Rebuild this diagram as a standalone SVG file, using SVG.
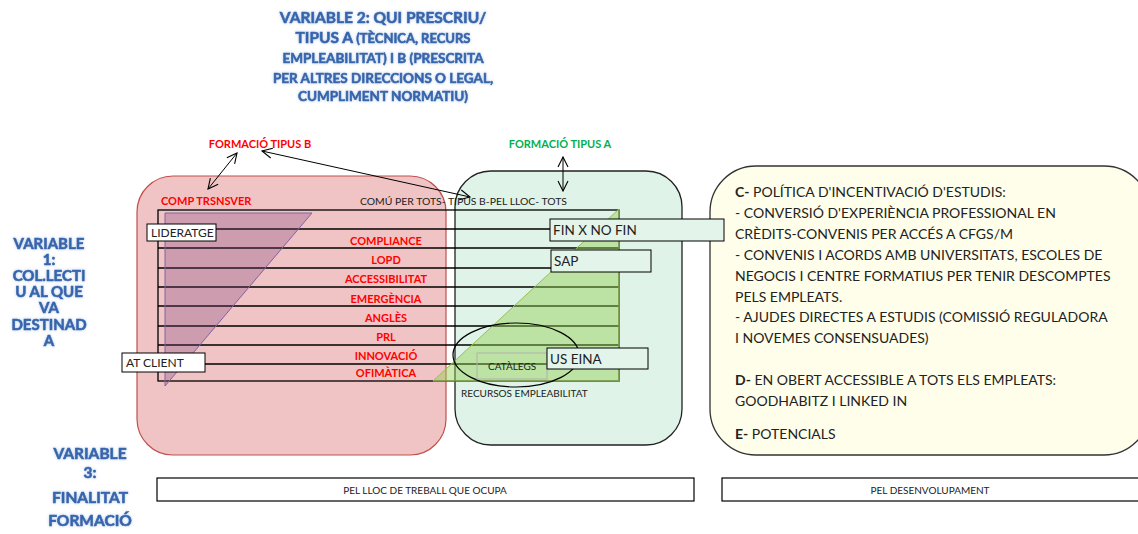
<svg xmlns="http://www.w3.org/2000/svg" width="1138" height="534" viewBox="0 0 1138 534">
<style>
.ttl{font-family:Lato,"Liberation Sans",sans-serif;font-weight:bold;fill:#3465ad;stroke:#3465ad;stroke-width:0.6;text-anchor:middle;filter:url(#glow)}
.row{font-family:Lato,"Liberation Sans",sans-serif;font-weight:bold;font-size:11px;fill:#ff0000;text-anchor:middle}
.lbl{font-family:Lato,"Liberation Sans",sans-serif;fill:#222}
.box{fill:#fff;stroke:#000;stroke-width:1}
.gbox{fill:#e3f4ea;stroke:#000;stroke-width:1}
.rt{font-family:Lato,"Liberation Sans",sans-serif;font-size:14px;fill:#222}
.tl{stroke:#000;stroke-width:1.3}
.arr{stroke:#000;stroke-width:1;fill:none;marker-start:url(#ah);marker-end:url(#ah)}
</style>
<defs>
<filter id="glow" x="-10%" y="-30%" width="120%" height="160%">
<feGaussianBlur in="SourceAlpha" stdDeviation="1.6" result="b"/>
<feFlood flood-color="#a9c3e6" flood-opacity="0.9"/>
<feComposite in2="b" operator="in" result="g"/>
<feMerge><feMergeNode in="g"/><feMergeNode in="SourceGraphic"/></feMerge>
</filter>
<marker id="ah" viewBox="0 0 12 12" refX="11" refY="6" markerWidth="12" markerHeight="12" markerUnits="userSpaceOnUse" orient="auto-start-reverse">
<path d="M1,1 L11,6 L1,11" fill="none" stroke="#000" stroke-width="1.1"/>
</marker>
</defs>
<rect width="1138" height="534" fill="#fff"/>

<g id="title">
<text class="ttl" x="383" y="23" font-size="15.5px">VARIABLE 2: QUI PRESCRIU/</text>
<text class="ttl" x="383" y="43" font-size="13px"><tspan font-size="15.5px">TIPUS A</tspan> (TÈCNICA, RECURS</text>
<text class="ttl" x="383" y="63" font-size="13.5px">EMPLEABILITAT) I B (PRESCRITA</text>
<text class="ttl" x="383" y="83" font-size="13.5px">PER ALTRES DIRECCIONS O LEGAL,</text>
<text class="ttl" x="383" y="101" font-size="13.5px">CUMPLIMENT NORMATIU)</text>
</g>

<g id="var1">
<text class="ttl" font-size="15px" x="49" y="249">VARIABLE</text>
<text class="ttl" font-size="15px" x="49" y="265">1:</text>
<text class="ttl" font-size="15px" x="49" y="281">COL.LECTI</text>
<text class="ttl" font-size="15px" x="49" y="297">U AL QUE</text>
<text class="ttl" font-size="15px" x="49" y="313">VA</text>
<text class="ttl" font-size="15px" x="49" y="330">DESTINAD</text>
<text class="ttl" font-size="15px" x="49" y="346">A</text>
</g>

<g id="var3">
<text class="ttl" font-size="15.5px" x="90" y="459">VARIABLE</text>
<text class="ttl" font-size="15.5px" x="90" y="478">3:</text>
<text class="ttl" font-size="15.5px" x="90" y="503">FINALITAT</text>
<text class="ttl" font-size="15.5px" x="90" y="526">FORMACIÓ</text>
</g>

<g id="tipusB-area">
<rect x="137" y="176" width="309" height="279" rx="36" fill="#f0c4c4" stroke="#c0504d" stroke-width="1.2"/>
</g>
<g id="tipusA-area">
<rect x="455" y="171" width="227" height="274" rx="36" fill="#dff3e8" stroke="#222" stroke-width="1.3"/>
</g>
<g id="desenvolupament-area">
<rect x="710" y="166" width="440" height="289" rx="46" fill="#fefeea" stroke="#333" stroke-width="1.3"/>
<text class="rt" x="735" y="197"><tspan font-weight="bold">C-</tspan> POLÍTICA D'INCENTIVACIÓ D'ESTUDIS:</text>
<text class="rt" x="735" y="218">- CONVERSIÓ D'EXPERIÈNCIA PROFESSIONAL EN</text>
<text class="rt" x="735" y="239">CRÈDITS-CONVENIS PER ACCÉS A CFGS/M</text>
<text class="rt" x="735" y="260">- CONVENIS I ACORDS AMB UNIVERSITATS, ESCOLES DE</text>
<text class="rt" x="735" y="281">NEGOCIS I CENTRE FORMATIUS PER TENIR DESCOMPTES</text>
<text class="rt" x="735" y="302">PELS EMPLEATS.</text>
<text class="rt" x="735" y="322">- AJUDES DIRECTES A ESTUDIS (COMISSIÓ  REGULADORA</text>
<text class="rt" x="735" y="343">I NOVEMES  CONSENSUADES)</text>
<text class="rt" x="735" y="385"><tspan font-weight="bold">D-</tspan> EN OBERT ACCESSIBLE A TOTS ELS EMPLEATS:</text>
<text class="rt" x="735" y="406">GOODHABITZ I LINKED IN</text>
<text class="rt" x="735" y="439"><tspan font-weight="bold">E-</tspan> POTENCIALS</text>
</g>

<g id="table">
<rect x="158" y="210" width="461" height="171" fill="none" stroke="#000" stroke-width="1.3"/>
<line class="tl" x1="158" y1="229" x2="619" y2="229"/>
<line class="tl" x1="158" y1="248" x2="619" y2="248"/>
<line class="tl" x1="158" y1="268" x2="619" y2="268"/>
<line class="tl" x1="158" y1="287" x2="619" y2="287"/>
<line class="tl" x1="158" y1="306" x2="619" y2="306"/>
<line class="tl" x1="158" y1="326" x2="619" y2="326"/>
<line class="tl" x1="158" y1="345" x2="619" y2="345"/>
<line class="tl" x1="158" y1="364" x2="619" y2="364"/>
</g>

<g id="triangles">
<polygon points="165,213 312,213 165,386" fill="#7f3f7f" fill-opacity="0.3" stroke="#8064a2" stroke-width="1"/>
<polygon points="619,209 433,381 619,381" fill="#92d050" fill-opacity="0.45" stroke="#9bbb59" stroke-width="1"/>
</g>

<g id="row-labels">
<text class="row" x="161" y="205" style="text-anchor:start">COMP TRSNSVER</text>
<text class="lbl" x="360" y="205" font-size="10.4px">COMÚ PER TOTS- TIPUS B-PEL LLOC- TOTS</text>
<text class="row" x="386" y="245">COMPLIANCE</text>
<text class="row" x="386" y="264">LOPD</text>
<text class="row" x="386" y="283">ACCESSIBILITAT</text>
<text class="row" x="386" y="303">EMERGÈNCIA</text>
<text class="row" x="386" y="322">ANGLÈS</text>
<text class="row" x="386" y="341">PRL</text>
<text class="row" x="386" y="360">INNOVACIÓ</text>
<text class="row" x="386" y="377">OFIMÀTICA</text>
</g>

<g id="headers">
<text class="row" x="260" y="148">FORMACIÓ TIPUS B</text>
<text class="row" x="560" y="148" style="fill:#00b050">FORMACIÓ TIPUS A</text>
</g>

<g id="connectors">
<line class="arr" x1="208" y1="189" x2="237" y2="153"/>
<line class="arr" x1="262" y1="151" x2="470" y2="197"/>
<line class="arr" x1="563" y1="157" x2="563" y2="191"/>
</g>

<g id="liderage">
<rect class="box" x="147" y="224" width="69" height="17"/>
<text class="lbl" x="151" y="237" font-size="12px" fill="#000">LIDERATGE</text>
</g>
<g id="atclient">
<rect class="box" x="122" y="353" width="83" height="19"/>
<text class="lbl" x="126" y="367" font-size="12px">AT CLIENT</text>
</g>
<g id="finxnofin">
<rect class="gbox" x="550" y="219" width="174" height="22"/>
<text class="lbl" x="553" y="235" font-size="13.5px">FIN X NO FIN</text>
</g>
<g id="sap">
<rect class="gbox" x="551" y="250" width="100" height="22"/>
<text class="lbl" x="554" y="266" font-size="13.5px">SAP</text>
</g>
<g id="catalegs">
<ellipse cx="516" cy="355" rx="63" ry="32" fill="none" stroke="#000" stroke-width="1.2"/>
<rect x="477" y="353" width="70" height="26" fill="none" stroke="#b0b0b0" stroke-width="1"/>
<text class="lbl" x="488" y="370" font-size="10px">CATÀLEGS</text>
<text class="lbl" x="461" y="397" font-size="10px">RECURSOS EMPLEABILITAT</text>
</g>
<g id="useina">
<rect class="gbox" x="547" y="348" width="101" height="21"/>
<text class="lbl" x="550" y="364" font-size="13.5px">US EINA</text>
</g>

<g id="bar-lloc">
<rect x="157" y="478" width="537" height="23" fill="#fff" stroke="#000" stroke-width="1.2"/>
<text class="lbl" x="425" y="494" font-size="10px" text-anchor="middle">PEL LLOC DE TREBALL QUE OCUPA</text>
</g>
<g id="bar-desenvolupament">
<rect x="722" y="478" width="430" height="23" fill="#fff" stroke="#000" stroke-width="1.2"/>
<text class="lbl" x="930" y="494" font-size="10px" text-anchor="middle">PEL DESENVOLUPAMENT</text>
</g>
</svg>
